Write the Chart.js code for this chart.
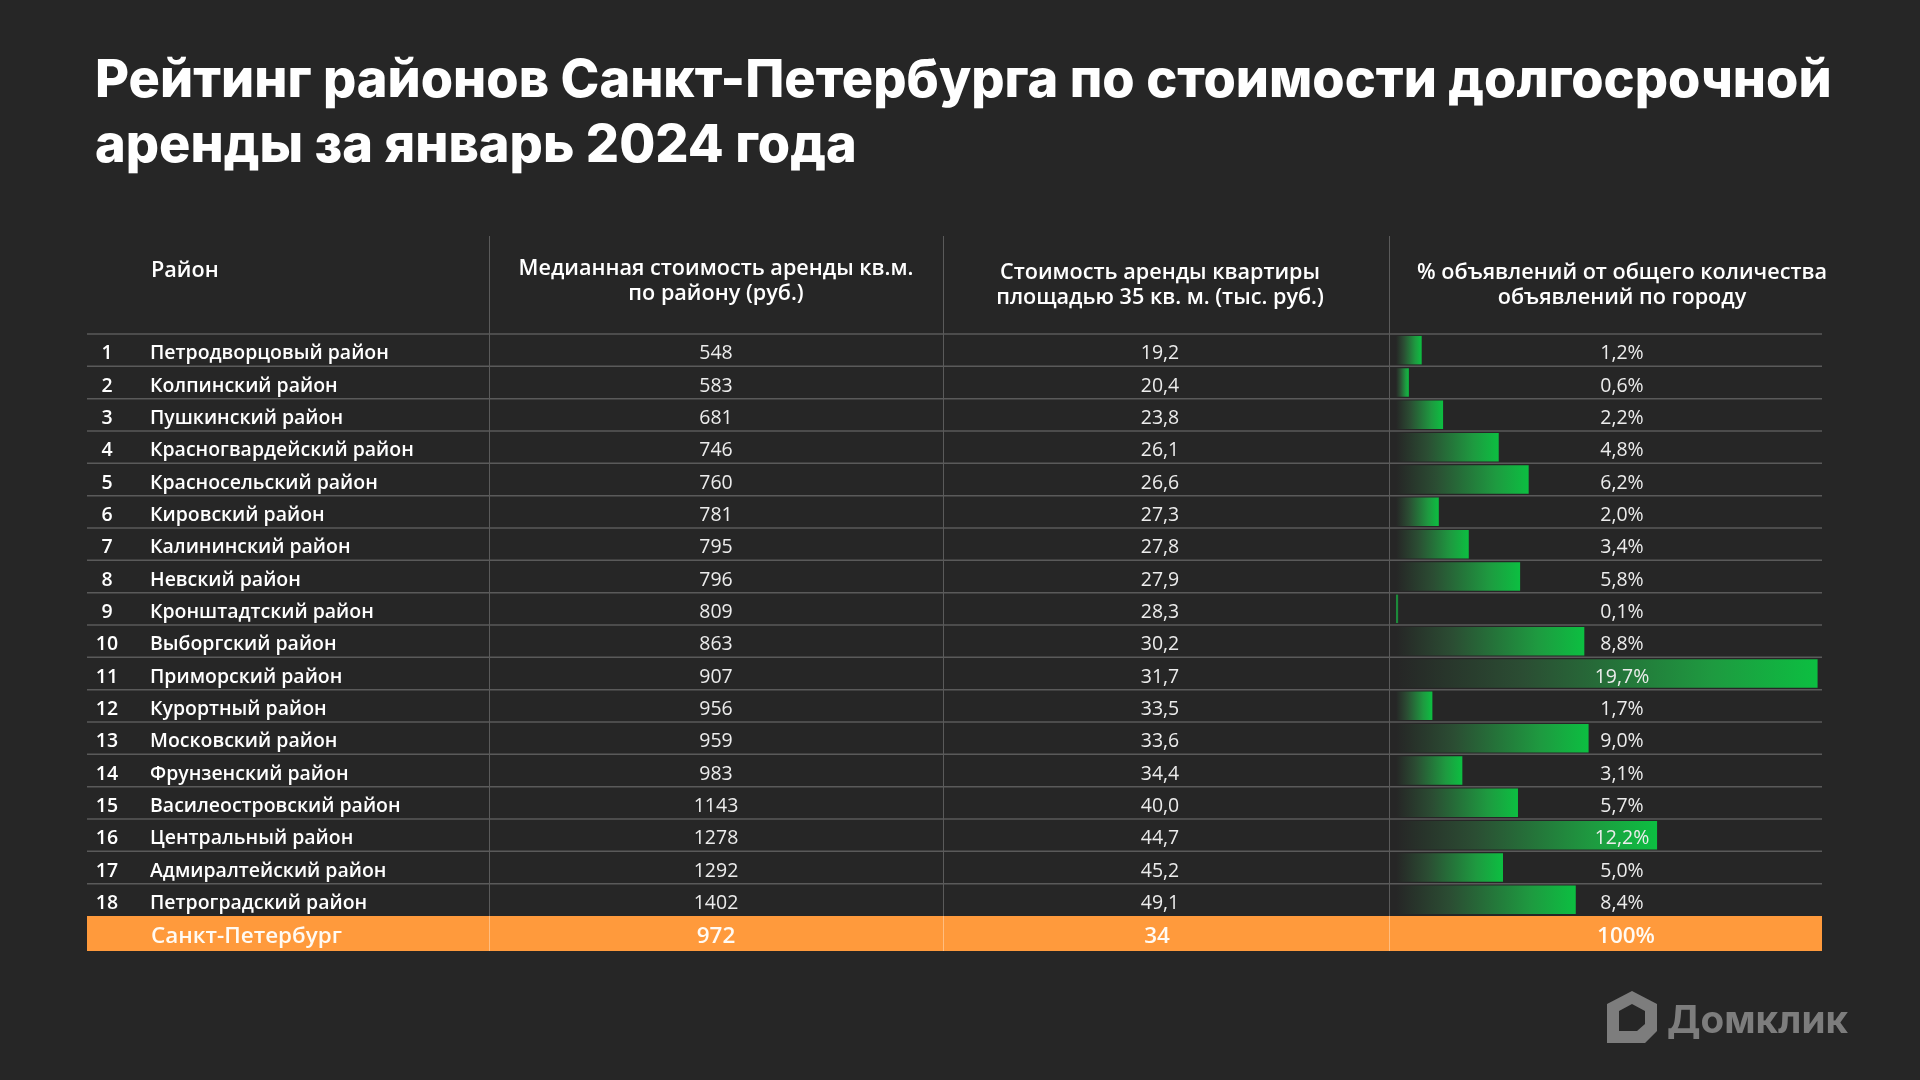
<!DOCTYPE html>
<html>
<head>
<meta charset="utf-8">
<script src="https://cdn.jsdelivr.net/npm/chart.js@4.4.1/dist/chart.umd.min.js"></script>
<style>
  html, body { margin: 0; padding: 0; background: #262626; }
  #wrap { width: 1920px; height: 1080px; }
</style>
</head>
<body>
<div id="wrap"><canvas id="rent" width="1920" height="1080"></canvas></div>
<script>
// ── Data ─────────────────────────────────────────────────────────────────────
const TITLE_LINES = ['Рейтинг районов Санкт-Петербурга по стоимости долгосрочной', 'аренды за январь 2024 года'];
const HEAD_DISTRICT = 'Район';
const HEAD_MEDIAN   = ['Медианная стоимость аренды кв.м.', 'по району (руб.)'];
const HEAD_FLAT     = ['Стоимость аренды квартиры', 'площадью 35 кв. м. (тыс. руб.)'];
const HEAD_SHARE    = ['% объявлений от общего количества', 'объявлений по городу'];

const DISTRICTS = ['Петродворцовый район','Колпинский район','Пушкинский район','Красногвардейский район','Красносельский район',
  'Кировский район','Калининский район','Невский район','Кронштадтский район','Выборгский район','Приморский район',
  'Курортный район','Московский район','Фрунзенский район','Василеостровский район','Центральный район',
  'Адмиралтейский район','Петроградский район'];
const MEDIAN_SQM = [548, 583, 681, 746, 760, 781, 795, 796, 809, 863, 907, 956, 959, 983, 1143, 1278, 1292, 1402];
const FLAT_35    = [19.2, 20.4, 23.8, 26.1, 26.6, 27.3, 27.8, 27.9, 28.3, 30.2, 31.7, 33.5, 33.6, 34.4, 40.0, 44.7, 45.2, 49.1];
const SHARE      = [1.2, 0.6, 2.2, 4.8, 6.2, 2.0, 3.4, 5.8, 0.1, 8.8, 19.7, 1.7, 9.0, 3.1, 5.7, 12.2, 5.0, 8.4];

const CITY_NAME   = 'Санкт-Петербург';
const CITY_MEDIAN = 972;
const CITY_FLAT   = 34;
const CITY_SHARE  = 100;

// ── Layout ───────────────────────────────────────────────────────────────────
const BG = '#262626', GREEN = '#0cbf41', ORANGE = '#ff9a3c', LINE = '#5a5a5a';
const TABLE_L = 87, TABLE_R = 1822, HEAD_TOP = 236;
const COL_LINES = [489, 943, 1389];
const NUM_X = 107, NAME_X = 150, MED_X = 716, FLAT_X = 1160, SHARE_X = 1622;
const BODY = '"Open Sans", "Noto Sans", sans-serif';
const TITLE_FONT = 'Inter, "Open Sans", sans-serif';

const fmt1 = v => v.toFixed(1).replace('.', ',');

// font size that makes `text` exactly `target` px wide
function fitSize(ctx, text, weight, family, target) {
  ctx.font = `${weight} 100px ${family}`;
  return 100 * target / ctx.measureText(text).width;
}

function barFill(c) {
  const chart = c.chart, xs = chart.scales.x;
  const v = SHARE[c.dataIndex];
  if (c.type !== 'data' || !xs || v === undefined) return GREEN;
  const x0 = xs.getPixelForValue(0), x1 = xs.getPixelForValue(v);
  if (!isFinite(x0) || !isFinite(x1)) return GREEN;
  if (x1 - x0 < 4) return '#1c8a3a';
  const g = chart.ctx.createLinearGradient(x0, 0, x1, 0);
  g.addColorStop(0, 'rgba(38,38,38,1)');
  g.addColorStop(0.3, '#2b4d33');
  g.addColorStop(0.75, '#1e9a40');
  g.addColorStop(1, GREEN);
  return g;
}

const tablePlugin = {
  id: 'table',
  beforeDraw(chart) {
    const ctx = chart.ctx;
    ctx.save();
    ctx.fillStyle = BG;
    ctx.fillRect(0, 0, chart.width, chart.height);

    // title
    const ts = fitSize(ctx, TITLE_LINES[0], 800, TITLE_FONT, 1737);
    ctx.font = `800 ${ts}px ${TITLE_FONT}`;
    ctx.fillStyle = '#ffffff';
    ctx.textBaseline = 'alphabetic';
    ctx.textAlign = 'left';
    ctx.fillText(TITLE_LINES[0], 95, 97);
    ctx.fillText(TITLE_LINES[1], 95, 162);

    // logo
    ctx.fillStyle = '#7d7d7d';
    const ls = fitSize(ctx, 'Домклик', 700, TITLE_FONT, 181);
    ctx.font = `700 ${ls}px ${TITLE_FONT}`;
    ctx.fillText('Домклик', 1667, 1033);
    ctx.beginPath();
    ctx.moveTo(1607, 1004); ctx.lineTo(1632, 991); ctx.lineTo(1657, 1004);
    ctx.lineTo(1657, 1031); ctx.lineTo(1645, 1043); ctx.lineTo(1607, 1043); ctx.closePath();
    ctx.moveTo(1619, 1011); ctx.lineTo(1619, 1031); ctx.lineTo(1637, 1031);
    ctx.lineTo(1645, 1024); ctx.lineTo(1645, 1011); ctx.lineTo(1632, 1004); ctx.closePath();
    ctx.fill('evenodd');
    ctx.restore();
  },
  beforeDatasetsDraw(chart) {
    const ctx = chart.ctx, ys = chart.scales.y;
    const rowH = ys.getPixelForValue(1) - ys.getPixelForValue(0);
    const top = ys.getPixelForValue(0) - rowH / 2;
    const cityTop = ys.getPixelForValue(DISTRICTS.length - 1) + rowH / 2;
    const cityH = 35;
    ctx.save();
    ctx.fillStyle = ORANGE;
    ctx.fillRect(TABLE_L, cityTop, TABLE_R - TABLE_L, cityH);

    ctx.strokeStyle = LINE;
    ctx.lineWidth = 1.5;
    for (let i = 0; i < DISTRICTS.length; i++) {
      const y = top + i * rowH;
      ctx.beginPath(); ctx.moveTo(TABLE_L, y); ctx.lineTo(TABLE_R, y); ctx.stroke();
    }
    ctx.lineWidth = 1;
    COL_LINES.forEach(x => {
      ctx.strokeStyle = LINE;
      ctx.beginPath(); ctx.moveTo(x + 0.5, HEAD_TOP); ctx.lineTo(x + 0.5, cityTop); ctx.stroke();
      ctx.strokeStyle = 'rgba(255,255,255,0.35)';
      ctx.beginPath(); ctx.moveTo(x + 0.5, cityTop); ctx.lineTo(x + 0.5, cityTop + cityH); ctx.stroke();
    });
    ctx.restore();
  },
  afterDatasetsDraw(chart) {
    const ctx = chart.ctx, ys = chart.scales.y;
    const rowH = ys.getPixelForValue(1) - ys.getPixelForValue(0);
    const cityMid = ys.getPixelForValue(DISTRICTS.length - 1) + rowH / 2 + 17.5;
    ctx.save();
    ctx.textBaseline = 'alphabetic';

    // header
    const hs = fitSize(ctx, HEAD_SHARE[0], 600, BODY, 410);
    ctx.font = `600 ${hs}px ${BODY}`;
    ctx.fillStyle = '#ffffff';
    ctx.textAlign = 'left';
    ctx.fillText(HEAD_DISTRICT, 151, 277);
    ctx.textAlign = 'center';
    ctx.fillText(HEAD_MEDIAN[0], MED_X, 275);   ctx.fillText(HEAD_MEDIAN[1], MED_X, 300);
    ctx.fillText(HEAD_FLAT[0], FLAT_X, 279);    ctx.fillText(HEAD_FLAT[1], FLAT_X, 304);
    ctx.fillText(HEAD_SHARE[0], SHARE_X, 279);  ctx.fillText(HEAD_SHARE[1], SHARE_X, 304);

    // rows
    const ns = fitSize(ctx, DISTRICTS[0], 600, BODY, 239);
    DISTRICTS.forEach((name, i) => {
      const y = ys.getPixelForValue(i) + 9;
      ctx.font = `600 ${ns}px ${BODY}`;
      ctx.fillStyle = '#ffffff';
      ctx.textAlign = 'center';
      ctx.fillText(String(i + 1), NUM_X, y);
      ctx.textAlign = 'left';
      ctx.fillText(name, NAME_X, y);
      ctx.font = `400 ${ns}px ${BODY}`;
      ctx.fillStyle = '#ececec';
      ctx.textAlign = 'center';
      ctx.fillText(String(MEDIAN_SQM[i]), MED_X, y);
      ctx.fillText(fmt1(FLAT_35[i]), FLAT_X, y);
      ctx.fillText(fmt1(SHARE[i]) + '%', SHARE_X, y);
    });

    // city total
    const cs = fitSize(ctx, CITY_NAME, 600, BODY, 191);
    ctx.font = `600 ${cs}px ${BODY}`;
    ctx.fillStyle = '#fffaf3';
    ctx.textAlign = 'left';
    ctx.fillText(CITY_NAME, 151, cityMid + 9);
    ctx.textAlign = 'center';
    ctx.fillText(String(CITY_MEDIAN), MED_X, cityMid + 9);
    ctx.fillText(String(CITY_FLAT), FLAT_X - 3, cityMid + 9);
    ctx.fillText(CITY_SHARE + '%', SHARE_X + 4, cityMid + 9);
    ctx.restore();
  }
};

const chart = new Chart(document.getElementById('rent'), {
  type: 'bar',
  data: {
    labels: DISTRICTS,
    datasets: [{
      data: SHARE,
      backgroundColor: barFill,
      borderWidth: 0,
      barPercentage: 0.88,
      categoryPercentage: 1
    }]
  },
  options: {
    indexAxis: 'y',
    responsive: false,
    animation: false,
    layout: { padding: { left: 1396, right: 96, top: 334, bottom: 164 } },
    scales: {
      x: { display: false, min: 0, max: 20 },
      y: { display: false }
    },
    plugins: { legend: { display: false }, tooltip: { enabled: false } }
  },
  plugins: [tablePlugin]
});
chart.update('none');
</script>
</body>
</html>
